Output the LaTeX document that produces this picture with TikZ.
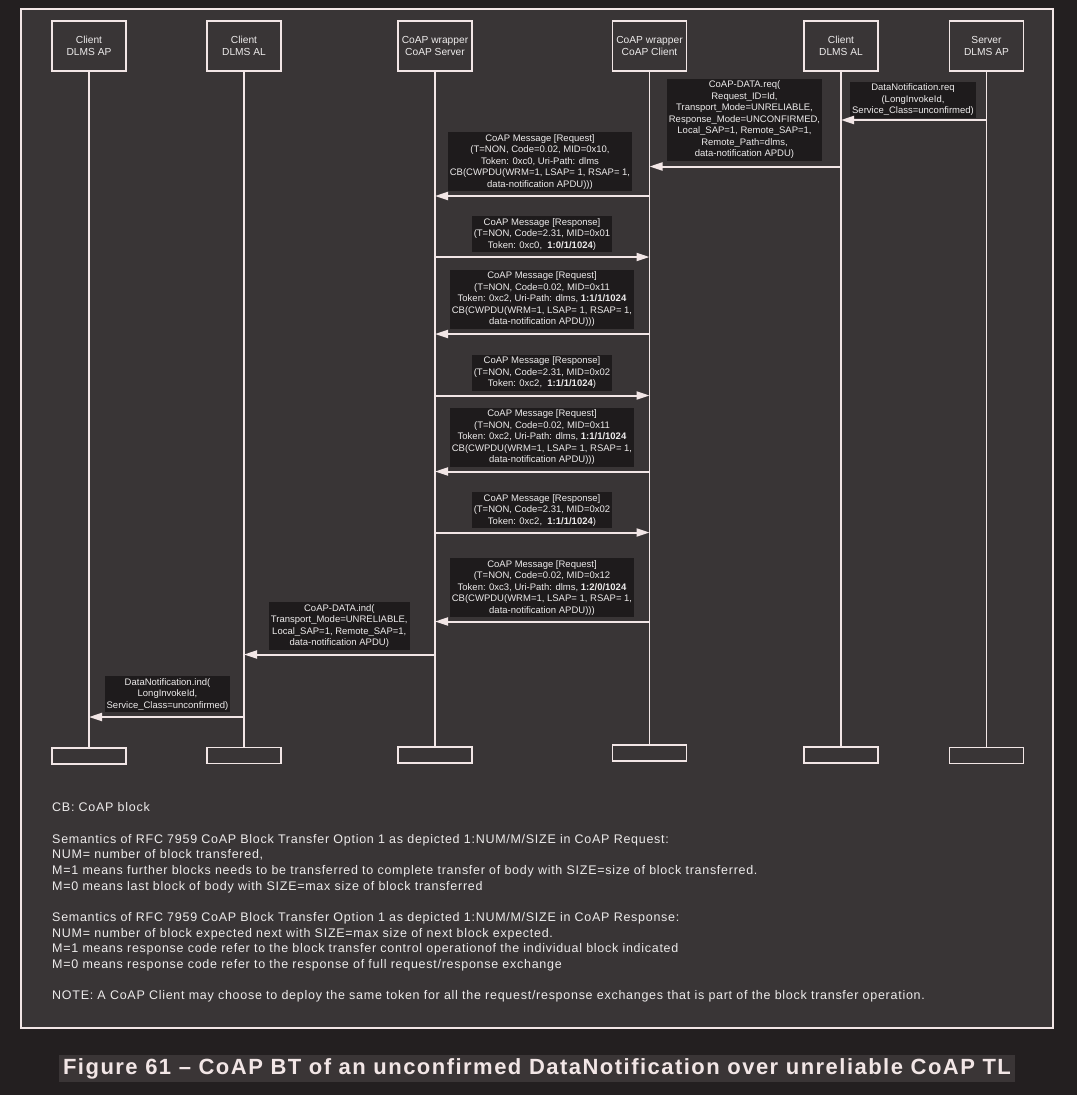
\documentclass[tikz,border=0pt]{standalone}
\usepackage{fontspec}
\setmainfont{Liberation Sans}
\newfontfamily\notefont{Liberation Sans}[LetterSpace=5.8]
\newfontfamily\capfont{Liberation Sans}[LetterSpace=6.7]
\usetikzlibrary{arrows.meta}
\usetikzlibrary{positioning}

\definecolor{outerbg}{HTML}{231F20}
\definecolor{panel}{HTML}{393536}
\definecolor{ink}{HTML}{F2E6E6}
\definecolor{labelbg}{HTML}{1E1B1C}
\definecolor{txt}{HTML}{EDEBEB}
\definecolor{capbg}{HTML}{3A3536}

\begin{document}
\begin{tikzpicture}[x=1pt,y=-1pt,
	head/.style={draw=ink, line width=1.8pt, fill=panel, minimum width=74pt, minimum height=50pt, align=center, text=txt, inner sep=1pt, font=\fontsize{10.2}{12}\selectfont},
	foot/.style={draw=ink, line width=1.8pt, fill=panel, minimum width=74pt, minimum height=16pt},
	life/.style={draw=ink, line width=1.4pt},
	msg/.style={draw=ink, line width=2pt, -{Triangle[length=13pt,width=8pt]}},
	lbl/.style={fill=labelbg, text=txt, align=center, inner sep=2pt, anchor=south, font=\fontsize{9.5}{11.5}\selectfont},
	note/.style={anchor=north west, text=txt, align=left, inner sep=0pt, font=\notefont\fontsize{12.5}{15.67}\selectfont}]
		\useasboundingbox (0,0) rectangle (1077,1095);
		\fill[outerbg] (0,0) rectangle (1077,1095);
		\draw[draw=ink, line width=2.5pt, fill=panel] (21,9) rectangle (1053,1028);
		
		% lifeline heads
		\node[head] (apC) at (89,46) {Client\\DLMS AP};
		\node[head] (alC) at (244,46) {Client\\DLMS AL};
		\node[head] (srv) at (435,46) {CoAP wrapper\\CoAP Server};
		\node[head] (cli) at (649.5,46) {CoAP wrapper\\CoAP Client};
		\node[head] (alS) at (841,46) {Client\\DLMS AL};
		\node[head] (apS) at (986.5,46) {Server\\DLMS AP};
		
		% lifeline ends
		\node[foot] (apCe) at (89,756) {};
		\node[foot] (alCe) at (244,755.5) {};
		\node[foot] (srve) at (435,755) {};
		\node[foot] (clie) at (649.5,753) {};
		\node[foot] (alSe) at (841,755) {};
		\node[foot] (apSe) at (986.5,755.5) {};
		
		\draw[life] (apC) -- (apCe);
		\draw[life] (alC) -- (alCe);
		\draw[life] (srv) -- (srve);
		\draw[life] (cli) -- (clie);
		\draw[life] (alS) -- (alSe);
		\draw[life] (apS) -- (apSe);
		
		% message levels
		\foreach \n/\y in {1/120,2/166.5,3/196,4/257,5/334,6/395.5,7/471.5,8/532.5,9/621.5,10/654.5,11/717}
			\coordinate (t\n) at (0,\y);
		
		% labels
		\node[lbl] (l1) at (913,118) {DataNotification.req\\(LongInvokeId,\\Service\_Class=unconfirmed)};
		\node[lbl] (l2) at (744.5,161) {CoAP-DATA.req(\\Request\_ID=Id,\\Transport\_Mode=UNRELIABLE,\\Response\_Mode=UNCONFIRMED,\\Local\_SAP=1, Remote\_SAP=1,\\Remote\_Path=dlms,\\data-notification APDU)};
		\node[lbl] (l3) at (540,191.5) {CoAP Message [Request]\\(T=NON, Code=0.02, MID=0x10,\\Token: 0xc0, Uri-Path: dlms\\CB(CWPDU(WRM=1, LSAP= 1, RSAP= 1,\\data-notification APDU)))};
		\node[lbl] (l4) at (542,252.3) {CoAP Message [Response]\\(T=NON, Code=2.31, MID=0x01\\Token: 0xc0,~ \textbf{1:0/1/1024})};
		\node[lbl] (l5) at (542,329) {CoAP Message [Request]\\(T=NON, Code=0.02, MID=0x11\\Token: 0xc2, Uri-Path: dlms, \textbf{1:1/1/1024}\\CB(CWPDU(WRM=1, LSAP= 1, RSAP= 1,\\data-notification APDU)))};
		\node[lbl] (l6) at (542,391) {CoAP Message [Response]\\(T=NON, Code=2.31, MID=0x02\\Token: 0xc2,~ \textbf{1:1/1/1024})};
		\node[lbl] (l7) at (542,466.7) {CoAP Message [Request]\\(T=NON, Code=0.02, MID=0x11\\Token: 0xc2, Uri-Path: dlms, \textbf{1:1/1/1024}\\CB(CWPDU(WRM=1, LSAP= 1, RSAP= 1,\\data-notification APDU)))};
		\node[lbl] (l8) at (542,528.3) {CoAP Message [Response]\\(T=NON, Code=2.31, MID=0x02\\Token: 0xc2,~ \textbf{1:1/1/1024})};
		\node[lbl] (l9) at (542,617.3) {CoAP Message [Request]\\(T=NON, Code=0.02, MID=0x12\\Token: 0xc3, Uri-Path: dlms, \textbf{1:2/0/1024}\\CB(CWPDU(WRM=1, LSAP= 1, RSAP= 1,\\data-notification APDU)))};
		\node[lbl] (l10) at (339.3,650) {CoAP-DATA.ind(\\Transport\_Mode=UNRELIABLE,\\Local\_SAP=1, Remote\_SAP=1,\\data-notification APDU)};
		\node[lbl] (l11) at (167.5,712.3) {DataNotification.ind(\\LongInvokeId,\\Service\_Class=unconfirmed)};
		
		% messages
		\draw[msg] (apS |- t1) -- (alS |- t1);
		\draw[msg] (alS |- t2) -- (cli |- t2);
		\draw[msg] (cli |- t3) -- (srv |- t3);
		\draw[msg] (srv |- t4) -- (cli |- t4);
		\draw[msg] (cli |- t5) -- (srv |- t5);
		\draw[msg] (srv |- t6) -- (cli |- t6);
		\draw[msg] (cli |- t7) -- (srv |- t7);
		\draw[msg] (srv |- t8) -- (cli |- t8);
		\draw[msg] (cli |- t9) -- (srv |- t9);
		\draw[msg] (srv |- t10) -- (alC |- t10);
		\draw[msg] (alC |- t11) -- (apC |- t11);
		
		% notes
		\node[note] (notes) at (52,802.5) {CB: CoAP block\\ ~\\
			Semantics of RFC 7959 CoAP Block Transfer Option 1 as depicted 1:NUM/M/SIZE in CoAP Request:\\
			NUM= number of block transfered,\\
			M=1 means further blocks needs to be transferred to complete transfer of body with SIZE=size of block transferred.\\
			M=0 means last block of body with SIZE=max size of block transferred\\ ~\\
			Semantics of RFC 7959 CoAP Block Transfer Option 1 as depicted 1:NUM/M/SIZE in CoAP Response:\\
			NUM= number of block expected next with SIZE=max size of next block expected.\\
			M=1 means response code refer to the block transfer control operationof the individual block indicated\\
			M=0 means response code refer to the response of full request/response exchange\\ ~\\
			NOTE: A CoAP Client may choose to deploy the same token for all the request/response exchanges that is part of the block transfer operation.};
		
		% caption
		\node[fill=capbg, text=ink, minimum width=956pt, minimum height=27pt, inner sep=0pt, font=\capfont\bfseries\fontsize{22}{26}\selectfont] (cap) at (537,1068.5) {Figure 61 – CoAP BT of an unconfirmed DataNotification over unreliable CoAP TL};
\end{tikzpicture}
\end{document}
